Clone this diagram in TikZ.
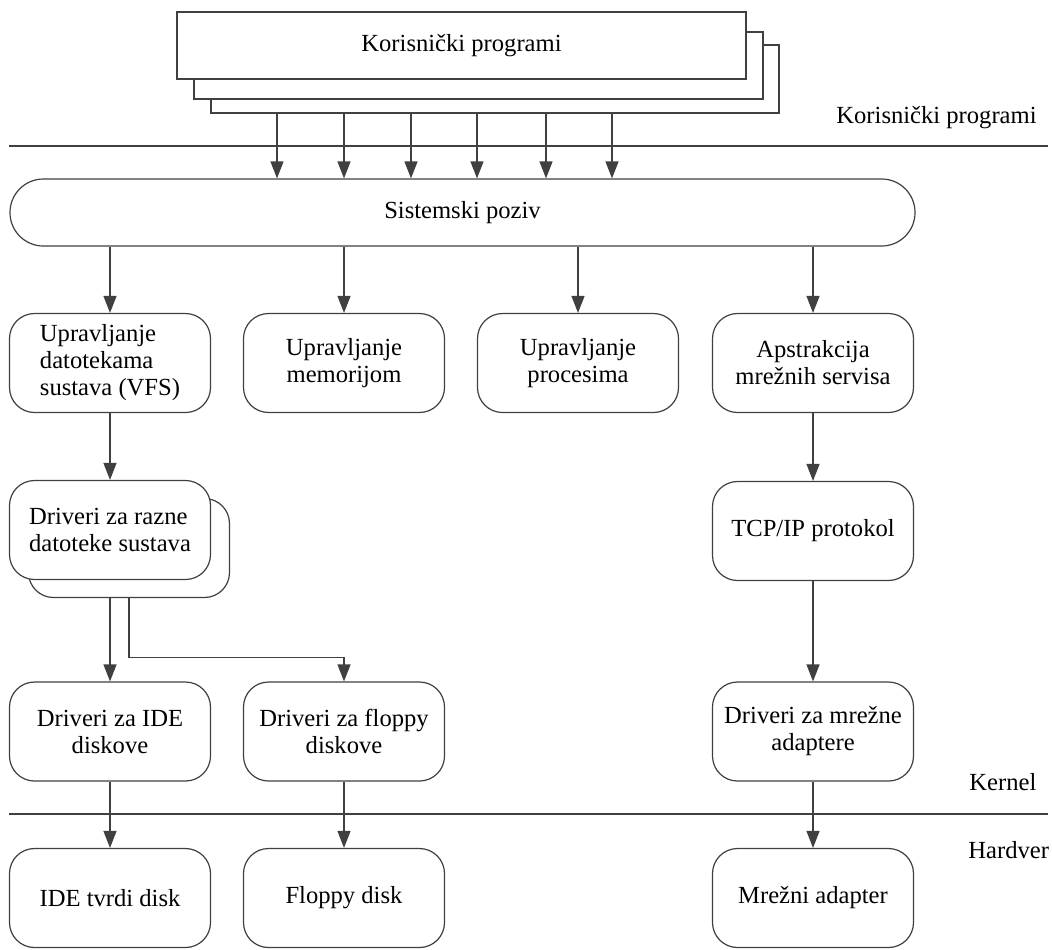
\documentclass[tikz,border=0pt]{standalone}
\usepackage{fontspec}
\setmainfont{Liberation Serif}
\usepackage{tikz}
\usetikzlibrary{arrows.meta}
\usetikzlibrary{positioning}
\tikzset{
prog box/.style = { rectangle, draw = black!75, fill = white, line width = 0.6pt, minimum width = 284.5pt, minimum height = 33.5pt },
call box/.style = { rectangle, draw = black!75, fill = white, line width = 0.6pt, minimum width = 452.5pt, minimum height = 33.5pt, rounded corners = 16.7pt },
kernel box/.style = { rectangle, draw = black!75, fill = white, line width = 0.6pt, minimum width = 100.5pt, minimum height = 49.5pt, rounded corners = 12.5pt, align = center, inner sep = 0pt },
layer line/.style = { draw = black!75, line width = 0.6pt },
layer label/.style = { anchor = base west, inner sep = 0pt },
arr/.style = { draw = black!75, line width = 0.6pt, -{Triangle[length = 8.5pt, width = 6.5pt]} },
}

\begin{document}
\begin{tikzpicture}[x = 0.5pt, y = -0.5pt, font = \fontsize{12.3}{13.5}\selectfont]
      \useasboundingbox (0, 0) rectangle (1052, 949);
      % user programs
      \node[prog box, minimum width = 284pt, minimum height = 34pt] (prog3) at (495, 79) {};
      \node[prog box] (prog2) at (478.5, 65.5) {};
      \node[prog box] (prog1) at (461.5, 45.5) {Korisnički programi};
      \node[layer label] (user) at (836, 123) {Korisnički programi};
      \draw[layer line] (9, 146) -- (1048, 146);
      % system call
      \node[call box] (sys) at (462.5, 212.5) {Sistemski poziv};
      \foreach \x in {277, 344, 411, 477, 546, 612}
        \draw[arr] (\x, 0 |- prog3.south) -- (\x, 0 |- sys.north);
      % kernel
      \node[kernel box, align = left] (vfs) at (110, 363) {Upravljanje\\datotekama\\sustava (VFS)};
      \node[kernel box] (mem) at (344, 363) {Upravljanje\\memorijom};
      \node[kernel box] (proc) at (578, 363) {Upravljanje\\procesima};
      \node[kernel box] (net) at (813, 363) {Apstrakcija\\mrežnih servisa};
      \foreach \n in {vfs, mem, proc, net}
        \draw[arr] (\n.north |- sys.south) -- (\n.north);
      \node[kernel box] (fsdrvb) at (129, 548) {};
      \node[kernel box, align = left] (fsdrv) at (110, 530) {Driveri za razne\\datoteke sustava};
      \node[kernel box] (tcp) at (813, 531) {TCP/IP protokol};
      \draw[arr] (vfs) -- (fsdrv);
      \draw[arr] (net) -- (tcp);
      \node[kernel box] (ide) at (110, 731.5) {Driveri za IDE\\diskove};
      \node[kernel box] (floppy) at (344, 731.5) {Driveri za floppy\\diskove};
      \node[kernel box] (netdrv) at (813, 731.5) {Driveri za mrežne\\adaptere};
      \draw[arr] (fsdrv.south |- fsdrvb.south) -- (ide.north);
      \draw[arr] (fsdrvb.south) -- ++(0, 59) -| (floppy.north);
      \draw[arr] (tcp) -- (netdrv);
      \node[layer label] (kern) at (969, 790) {Kernel};
      \draw[layer line] (9, 814) -- (1048, 814);
      % hardware
      \node[layer label] (hw) at (968, 858) {Hardver};
      \node[kernel box] (hdd) at (110, 898) {IDE tvrdi disk};
      \node[kernel box] (fdisk) at (344, 898) {Floppy disk};
      \node[kernel box] (nic) at (813, 898) {Mrežni adapter};
      \draw[arr] (ide) -- (hdd);
      \draw[arr] (floppy) -- (fdisk);
      \draw[arr] (netdrv) -- (nic);
\end{tikzpicture}
\end{document}
